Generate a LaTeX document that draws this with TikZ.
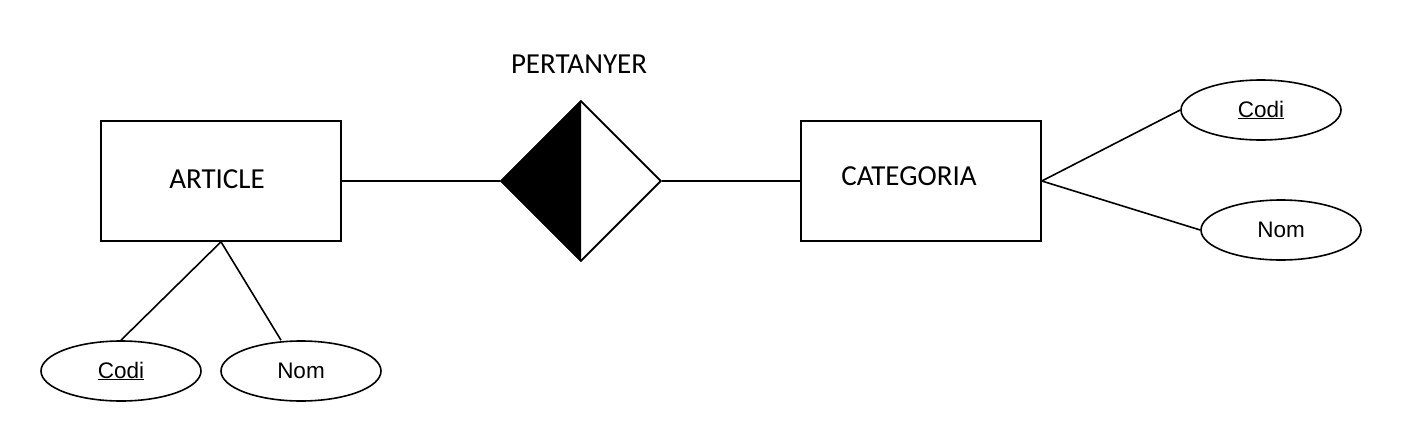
\documentclass[tikz,border=0pt]{standalone}
\usepackage{fontspec}
\setmainfont{Carlito}
\newfontfamily\attrfont{Liberation Sans}
\usetikzlibrary{shapes.geometric}
\begin{document}
\begin{tikzpicture}[x=1pt,y=-1pt,
  line width=1.6pt,
  entity/.style={draw, rectangle, minimum width=240pt, minimum height=120pt, inner sep=0pt},
  attr/.style={draw, ellipse, minimum width=160pt, minimum height=60pt, inner sep=0pt, font=\attrfont\fontsize{22.5}{26}\selectfont},
  rel/.style={draw, diamond, minimum width=160pt, minimum height=160pt, inner sep=0pt},
  lbl/.style={font=\fontsize{29}{34}\selectfont, inner sep=0pt}]
\useasboundingbox (0,0) rectangle (1402,442);
\node[entity] (article) at (221,181) {};
\node[lbl] (articleT) at (217,179) {ARTICLE};
\node[entity] (categoria) at (921,181) {};
\node[lbl] (categoriaT) at (909,176) {CATEGORIA};
\node[rel] (pert) at (581,181) {};
\fill (pert.north) -- (pert.west) -- (pert.south) -- cycle;
\node[rel] at (581,181) {};
\node[lbl] (pertT) at (579,64) {PERTANYER};
\node[attr] (codiA) at (121,371) {\underline{Codi}};
\node[attr] (nomA) at (301,371) {Nom};
\node[attr] (codiC) at (1261,110) {\underline{Codi}};
\node[attr] (nomC) at (1281,230) {Nom};
\draw (article.east) -- (pert.west);
\draw (pert.east) -- (categoria.west);
\draw (article.south) -- (codiA.north);
\draw (article.south) -- ([xshift=-20pt]nomA.north);
\draw (categoria.east) -- (codiC.west);
\draw (categoria.east) -- (nomC.west);
\end{tikzpicture}
\end{document}
